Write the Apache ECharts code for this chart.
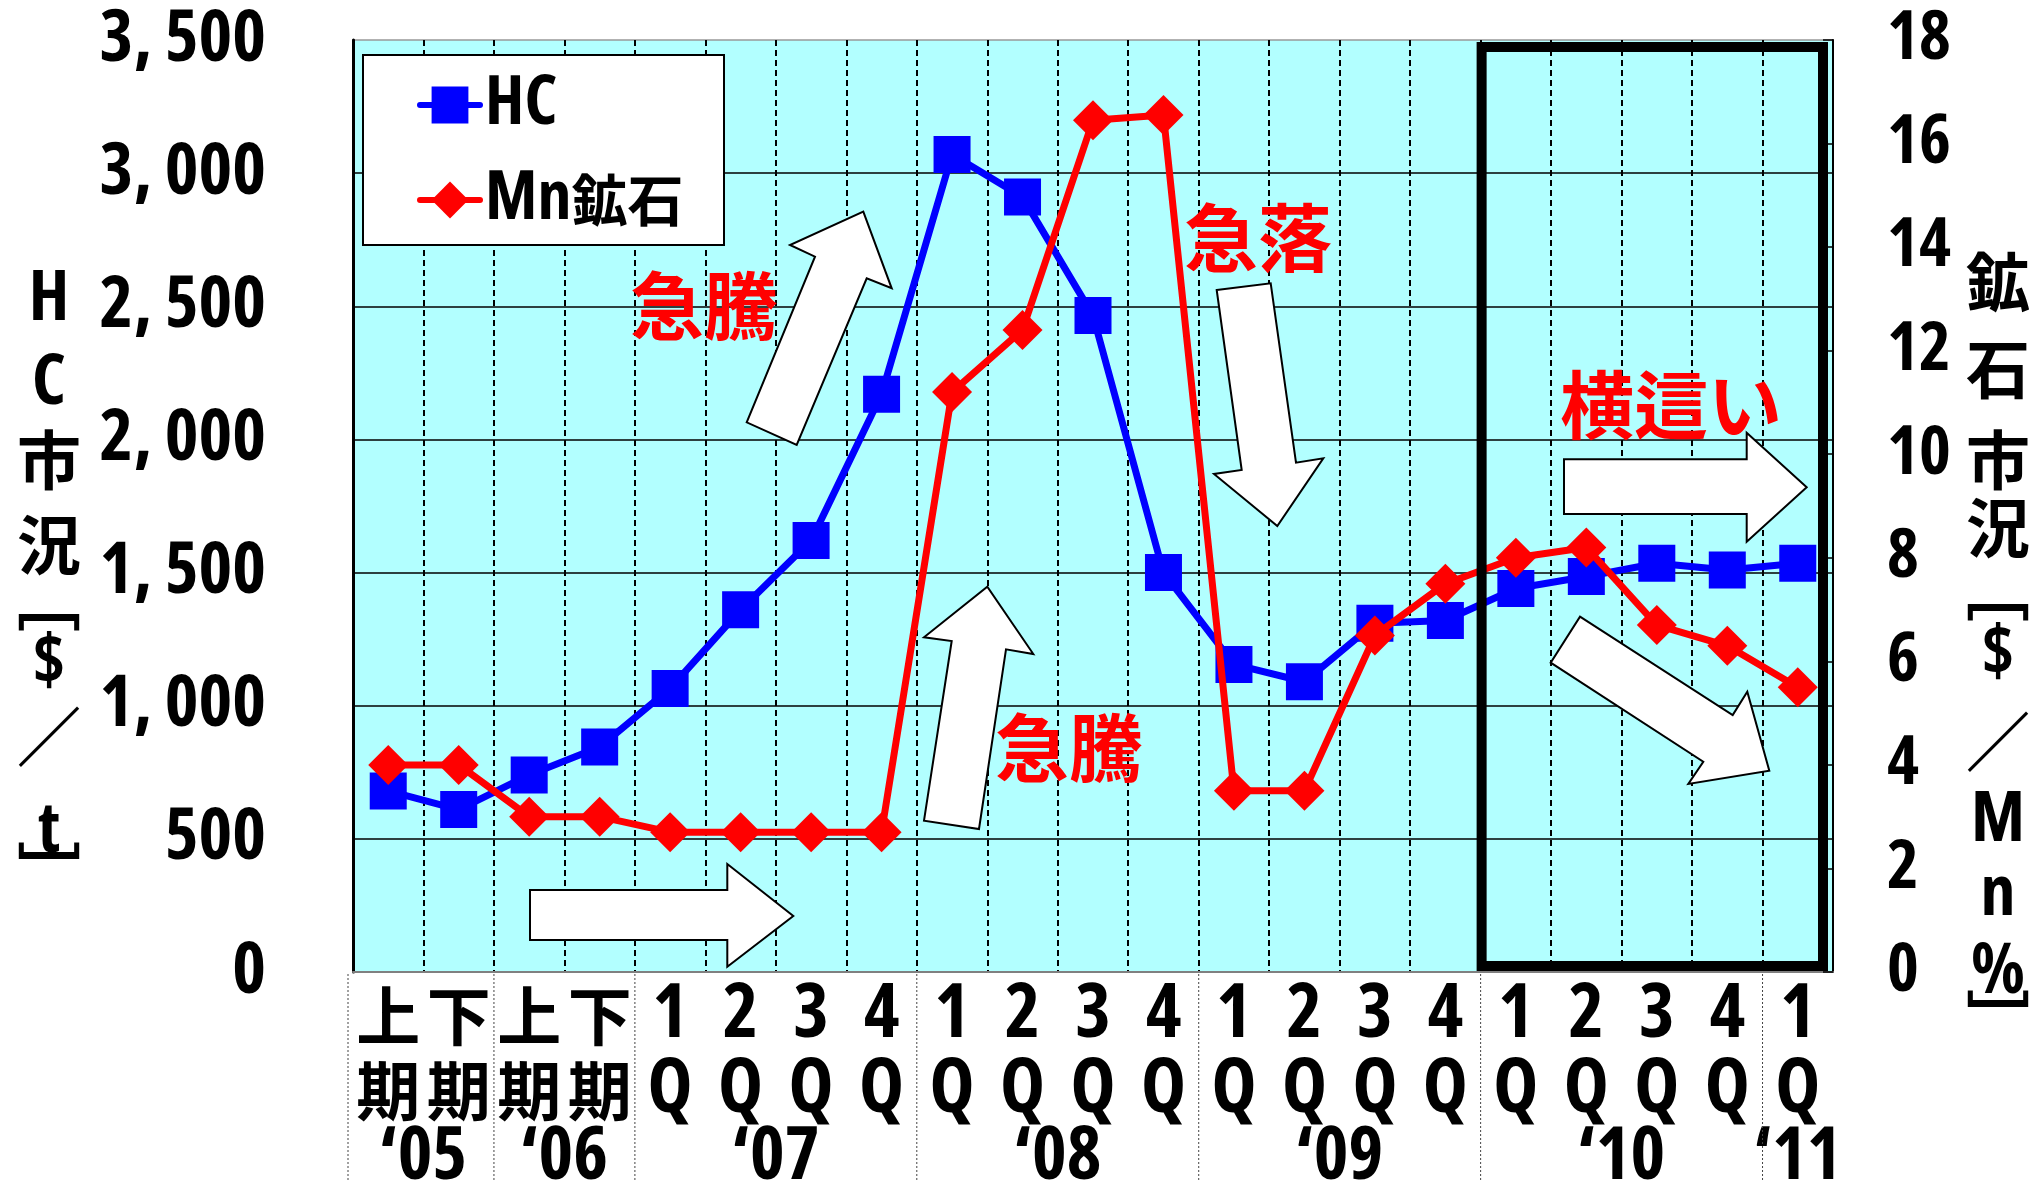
<!DOCTYPE html>
<html><head><meta charset="utf-8">
<script src="https://cdn.jsdelivr.net/npm/echarts@6/dist/echarts.min.js"></script>
<style>html,body{margin:0;padding:0;background:#fff}#c{width:2033px;height:1182px}</style>
</head><body><div id="c"></div>
<script>
// ---- data ----
const categories = ["上期'05","下期'05","上期'06","下期'06","1Q'07","2Q'07","3Q'07","4Q'07","1Q'08","2Q'08","3Q'08","4Q'08","1Q'09","2Q'09","3Q'09","4Q'09","1Q'10","2Q'10","3Q'10","4Q'10","1Q'11"];
const hcValues = [680,610,740,845,1065,1360,1620,2170,3070,2910,2465,1500,1155,1090,1310,1320,1440,1485,1535,1510,1535];
const mnValues = [4.0,4.0,3.0,3.0,2.7,2.7,2.7,2.7,11.2,12.4,16.45,16.55,3.5,3.5,6.5,7.5,8.0,8.2,6.7,6.3,5.5];
const seriesNames = ['HC','Mn鉱石'];
const leftAxis = {min:0, max:3500, interval:500};
const rightAxis = {min:0, max:18, interval:2};
const yearLabels = ['‘05','‘06','‘07','‘08','‘09','‘10','‘11'];
const yearFrom = [0,2,4,8,12,16,20];
const yearTo   = [1,3,7,11,15,19,20];
const noteTexts = ['急騰','急落','急騰','横這い'];
const leftTitle = ['H','C','市','況','﹇','$','／','t','﹈'];
const rightTitle = ['鉱','石','市','況','﹇','$','／','M','n','%','﹈'];

const NARROW = '"Open Sans", "Noto Sans CJK JP"';
const CJK = '"Noto Sans CJK JP"';
const COND = 'condensed';

const chart = echarts.init(document.getElementById('c'));
const option = {
  animation:false,
  backgroundColor:'#fff',
  grid:{left:353,right:200,top:40,bottom:210,show:true,backgroundColor:'#B2FFFF',borderColor:'#999',borderWidth:1.5,outerBoundsMode:'none',containLabel:false},
  legend:{
    data:seriesNames, orient:'vertical', left:417, top:70, padding:0,
    itemWidth:60, itemHeight:46, itemGap:25, z:6,
    lineStyle:{width:6,cap:'round'},
    formatter:n=> n==='Mn鉱石' ? 'Mn{c|鉱石}' : n,
    textStyle:{fontFamily:NARROW,fontStyle:COND,fontWeight:'bold',fontSize:68,color:'#000',lineHeight:70,
      rich:{c:{fontFamily:CJK,fontWeight:'bold',fontSize:56,color:'#000',lineHeight:70}}}
  },
  xAxis:{
    type:'category', data:categories, boundaryGap:true,
    axisLine:{show:true,lineStyle:{color:'#808080',width:2}},
    axisTick:{show:false},
    splitLine:{show:true,interval:0,lineStyle:{color:'#000',type:[6,4],width:2}},
    axisLabel:{interval:0,margin:6,
      formatter:v=>{const a=v.charAt(0),b=v.charAt(1);return /[上下]/.test(a)?`{c|${a}}\n{c|${b}}`:`{d|${a}}\n{d|${b}}`;},
      rich:{c:{fontFamily:CJK,fontWeight:'bold',fontSize:64,lineHeight:75,color:'#000'},
            d:{fontFamily:NARROW,fontStyle:COND,fontWeight:'bold',fontSize:76,lineHeight:75,color:'#000'}}}
  },
  yAxis:[{
    type:'value', position:'left', min:leftAxis.min, max:leftAxis.max, interval:leftAxis.interval,
    axisLine:{show:true,lineStyle:{color:'#000',width:3}}, axisTick:{show:false},
    splitLine:{show:true,showMaxLine:false,showMinLine:false,lineStyle:{color:'#000',width:1.5}},
    axisLabel:{margin:87,padding:[14,0,0,0],fontFamily:NARROW,fontStyle:COND,fontWeight:'bold',fontSize:72,color:'#000',
      formatter:v=> v>=1000 ? Math.floor(v/1000)+', '+String(v%1000).padStart(3,'0') : String(v)}
  },{
    type:'value', position:'right', min:rightAxis.min, max:rightAxis.max, interval:rightAxis.interval,
    axisLine:{show:true,lineStyle:{color:'#000',width:2}},
    axisTick:{show:true,inside:true,length:10,lineStyle:{color:'#000',width:1.5}},
    splitLine:{show:false},
    axisLabel:{margin:54,padding:[14,0,0,0],fontFamily:NARROW,fontStyle:COND,fontWeight:'bold',fontSize:68,color:'#000'}
  }],
  series:[{
    name:seriesNames[0], type:'line', yAxisIndex:0, data:hcValues,
    symbol:'rect', symbolSize:37, z:2,
    lineStyle:{color:'#0000FF',width:7}, itemStyle:{color:'#0000FF'}
  },{
    name:seriesNames[1], type:'line', yAxisIndex:1, data:mnValues,
    symbol:'diamond', symbolSize:40, z:3,
    lineStyle:{color:'#FF0000',width:7}, itemStyle:{color:'#FF0000'}
  }]
};
chart.setOption(option);

// ---- decorations ----
const px = i => chart.convertToPixel({xAxisIndex:0}, categories[i]);
const half = (px(1)-px(0))/2;
const boundary = k => px(0) - half + k*2*half;
const yBottom = chart.convertToPixel({yAxisIndex:0}, 0);
const yTop = chart.convertToPixel({yAxisIndex:0}, 3500);

const els = [];
yearLabels.forEach((t,i)=>{
  els.push({type:'text', x:(px(yearFrom[i])+px(yearTo[i]))/2, y:1158, z:10,
    style:{text:t, fill:'#000', fontFamily:NARROW, fontStyle:COND, fontWeight:'bold', fontSize:74, align:'center', verticalAlign:'middle'}});
});
[0,2,4,8,12,16,20].forEach(k=>{
  const x = boundary(k) - (k===0?5:0);
  els.push({type:'line', z:10, shape:{x1:x,y1:yBottom+2,x2:x,y2:1182},
    style:{stroke:'#444',lineWidth:1,lineDash:[2,2]}});
});
els.push({type:'rect', z:5, shape:{x:363,y:55,width:361,height:190},
  style:{fill:'#fff',stroke:'#000',lineWidth:2}});
els.push({type:'rect', z:8, shape:{x:boundary(16)+1,y:yTop+7,width:(boundary(21)-10)-(boundary(16)+1),height:(yBottom-6)-(yTop+7)},
  style:{fill:'none',stroke:'#000',lineWidth:10}});
const arrows = [
  [[746.7,422.3],[815,256.7],[790,245],[863.3,211.7],[891.7,288.3],[866.7,278.3],[796.7,445]],
  [[1216.7,290],[1270.7,283.3],[1296,462.7],[1323.3,458.3],[1277.3,526],[1214,474],[1241.7,470]],
  [[924,820.7],[951.7,641],[924,637.3],[987.3,586.7],[1033.3,654],[1006,649.3],[979,829]],
  [[1564,459.3],[1746.7,459.3],[1746.7,432.7],[1806.7,487.3],[1746.7,541.7],[1746.7,514],[1564,514]],
  [[1580,616.7],[1732.7,715],[1747.3,691.7],[1769.3,770.7],[1688.3,784],[1703.3,761.7],[1550.7,662.7]],
  [[530,890],[727.3,890],[727.3,864],[793.3,916],[727.3,966.7],[727.3,940],[530,940]]
];
arrows.forEach(p=>els.push({type:'polygon', z:7, shape:{points:p}, style:{fill:'#fff',stroke:'#000',lineWidth:2}}));
const notePos = [[704,306],[1258,238],[1069,748],[1671,405]];
noteTexts.forEach((t,i)=>{
  els.push({type:'text', x:notePos[i][0], y:notePos[i][1], z:9,
    style:{text:t, fill:'#FF0000', fontFamily:CJK, fontWeight:'bold', fontSize:74, align:'center', verticalAlign:'middle'}});
});
const leftY = [293,377,460,545,600,657,737,825,873];
leftTitle.forEach((c,i)=>{
  const cjk = /[市況﹇﹈／]/.test(c);
  els.push({type:'text', x:49, y:leftY[i]+(cjk?0:7), z:10,
    style:{text:c, fill:'#000', fontFamily:cjk?CJK:NARROW, fontStyle:cjk?'normal':COND, fontWeight:'bold', fontSize:cjk?64:70, align:'center', verticalAlign:'middle'}});
});
const rightY = [282,369,460,528,590,651,742,817,891,969,1021];
rightTitle.forEach((c,i)=>{
  const cjk = /[鉱石市況﹇﹈／]/.test(c);
  els.push({type:'text', x:1998, y:rightY[i]+(cjk?0:4), z:10,
    style:{text:c, fill:'#000', fontFamily:cjk?CJK:NARROW, fontStyle:cjk?'normal':COND, fontWeight:'bold', fontSize:cjk?64:70, align:'center', verticalAlign:'middle'}});
});
chart.setOption({graphic:{elements:els}});
</script>
</body></html>
